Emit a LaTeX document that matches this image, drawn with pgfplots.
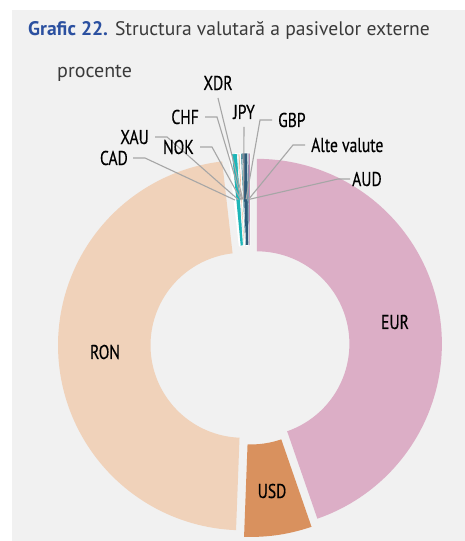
\documentclass[border=0pt]{standalone}
\usepackage{pgfplots}
\pgfplotsset{compat=1.18}
\usepackage{pgfplotstable}
\usepackage{fontspec}
\setmainfont{PT Sans}
\newfontfamily\lblfont[FakeStretch=0.78,FakeBold=0.4]{PT Sans}
\definecolor{cEUR}{HTML}{DCAEC6}
\definecolor{cUSD}{HTML}{D9915E}
\definecolor{cRON}{HTML}{F0D2BA}
\definecolor{cCAD}{HTML}{FFFFFF}
\definecolor{cXAU}{HTML}{1DB6B8}
\definecolor{cNOK}{HTML}{E4EEF0}
\definecolor{cCHF}{HTML}{EBB58F}
\definecolor{cXDR}{HTML}{FFFFFF}
\definecolor{cJPY}{HTML}{3C8E9C}
\definecolor{cGBP}{HTML}{2C5A78}
\definecolor{cALT}{HTML}{3F6C88}
\definecolor{cAUD}{HTML}{9B4F8C}
\definecolor{bgc}{HTML}{F1F1F1}
\definecolor{leader}{HTML}{A6A6A6}
\definecolor{titleblue}{HTML}{2B50A0}
\definecolor{titlegray}{HTML}{3A3A3A}
\pgfplotstableread{
name value col edge
EUR 44.7 cEUR none
USD 5.9 cUSD none
RON 47.6 cRON none
CAD 0.30 cCAD white
XAU 0.45 cXAU white
NOK 0.10 cNOK white
CHF 0.10 cCHF white
XDR 0.10 cXDR white
JPY 0.10 cJPY white
GBP 0.45 cGBP white
ALT 0.10 cALT white
AUD 0.10 cAUD white
}\datatable
\begin{document}
\begin{tikzpicture}
\def\cx{250}\def\cy{196}\def\Ro{185}\def\Ri{92.5}\def\ex{7}\def\rm{138.75}
\begin{axis}[width=465pt, height=541pt, scale only axis,
  xmin=0, xmax=465, ymin=0, ymax=541,
  axis line style={draw=none}, ticks=none,
  axis background/.style={fill=white}, clip=false]
\fill[bgc] (axis cs:12,0) rectangle (axis cs:465,531);
\pgfplotstablegetrowsof{\datatable}
\pgfmathtruncatemacro\nrows{\pgfplotsretval-1}
\def\acc{0}
\pgfplotsforeachungrouped \i in {0,...,\nrows}{%
  \pgfplotstablegetelem{\i}{value}\of\datatable \let\val\pgfplotsretval
  \pgfplotstablegetelem{\i}{col}\of\datatable \let\col\pgfplotsretval
  \pgfplotstablegetelem{\i}{edge}\of\datatable \let\edg\pgfplotsretval
  \pgfmathsetmacro\angA{\acc*3.6}%
  \pgfmathsetmacro\angB{(\acc+\val)*3.6}%
  \pgfmathsetmacro\angM{(\angA+\angB)/2}%
  \pgfmathsetmacro\ox{\cx+\ex*sin(\angM)}%
  \pgfmathsetmacro\oy{\cy+\ex*cos(\angM)}%
  \edef\doplot{\noexpand\addplot[fill=\col, draw=\edg, line width=0.7pt, domain=0:2, samples=201]
    ({\ox+ifthenelse(\noexpand\x<1.005,\Ro,\Ri)*sin(ifthenelse(\noexpand\x<1.005,\angA+(\angB-\angA)*\noexpand\x,\angB-(\angB-\angA)*(\noexpand\x-1.01)/0.99))},
     {\oy+ifthenelse(\noexpand\x<1.005,\Ro,\Ri)*cos(ifthenelse(\noexpand\x<1.005,\angA+(\angB-\angA)*\noexpand\x,\angB-(\angB-\angA)*(\noexpand\x-1.01)/0.99))});}%
  \doplot
  \pgfmathsetmacro\lx{\ox+\rm*sin(\angM)}%
  \pgfmathsetmacro\ly{\oy+\rm*cos(\angM)}%
  \expandafter\xdef\csname lx\i\endcsname{\lx}%
  \expandafter\xdef\csname ly\i\endcsname{\ly}%
  \pgfmathsetmacro\acc{\acc+\val}%
}
% leader lines
\begin{scope}[leader, line width=1.1pt]
\draw (axis cs:\csname lx3\endcsname,\csname ly3\endcsname) -- (axis cs:145,383) -- (axis cs:133,383);
\draw (axis cs:\csname lx4\endcsname,\csname ly4\endcsname) -- (axis cs:167,404) -- (axis cs:155,404);
\draw (axis cs:\csname lx5\endcsname,\csname ly5\endcsname) -- (axis cs:212,394) -- (axis cs:200,394);
\draw (axis cs:\csname lx6\endcsname,\csname ly6\endcsname) -- (axis cs:217,424) -- (axis cs:205,424);
\draw (axis cs:\csname lx7\endcsname,\csname ly7\endcsname) -- (axis cs:218,443);
\draw (axis cs:\csname lx8\endcsname,\csname ly8\endcsname) -- (axis cs:244,414);
\draw (axis cs:\csname lx9\endcsname,\csname ly9\endcsname) -- (axis cs:260,421) -- (axis cs:272,421);
\draw (axis cs:\csname lx10\endcsname,\csname ly10\endcsname) -- (axis cs:293,396) -- (axis cs:305,396);
\draw (axis cs:\csname lx11\endcsname,\csname ly11\endcsname) -- (axis cs:338,362) -- (axis cs:350,362);
\end{scope}
\begin{scope}[every node/.style={inner sep=0pt, font=\lblfont\fontsize{20}{22}\selectfont, text=black}]
\node[anchor=east] at (axis cs:128,383) {CAD};
\node[anchor=east] at (axis cs:149,404) {XAU};
\node[anchor=east] at (axis cs:194,394) {NOK};
\node[anchor=east] at (axis cs:199,424) {CHF};
\node[anchor=base] at (axis cs:218,451) {XDR};
\node[anchor=base] at (axis cs:244,422) {JPY};
\node[anchor=west] at (axis cs:278,421) {GBP};
\node[anchor=west] at (axis cs:311,396) {Alte valute};
\node[anchor=west] at (axis cs:352,362) {AUD};
\node at (axis cs:395,219) {EUR};
\node at (axis cs:105,189) {RON};
\node at (axis cs:272,50) {USD};
\end{scope}
\node[anchor=base west, inner sep=0pt, font=\fontsize{19.6}{24}\selectfont] at (axis cs:28,505)
  {\textcolor{titleblue}{\bfseries Grafic 22.} \textcolor{titlegray}{Structura valutară a pasivelor externe}};
\node[anchor=base west, inner sep=0pt, font=\fontsize{20}{24}\selectfont, text=titlegray] at (axis cs:57,463) {procente};
\end{axis}
\end{tikzpicture}
\end{document}
